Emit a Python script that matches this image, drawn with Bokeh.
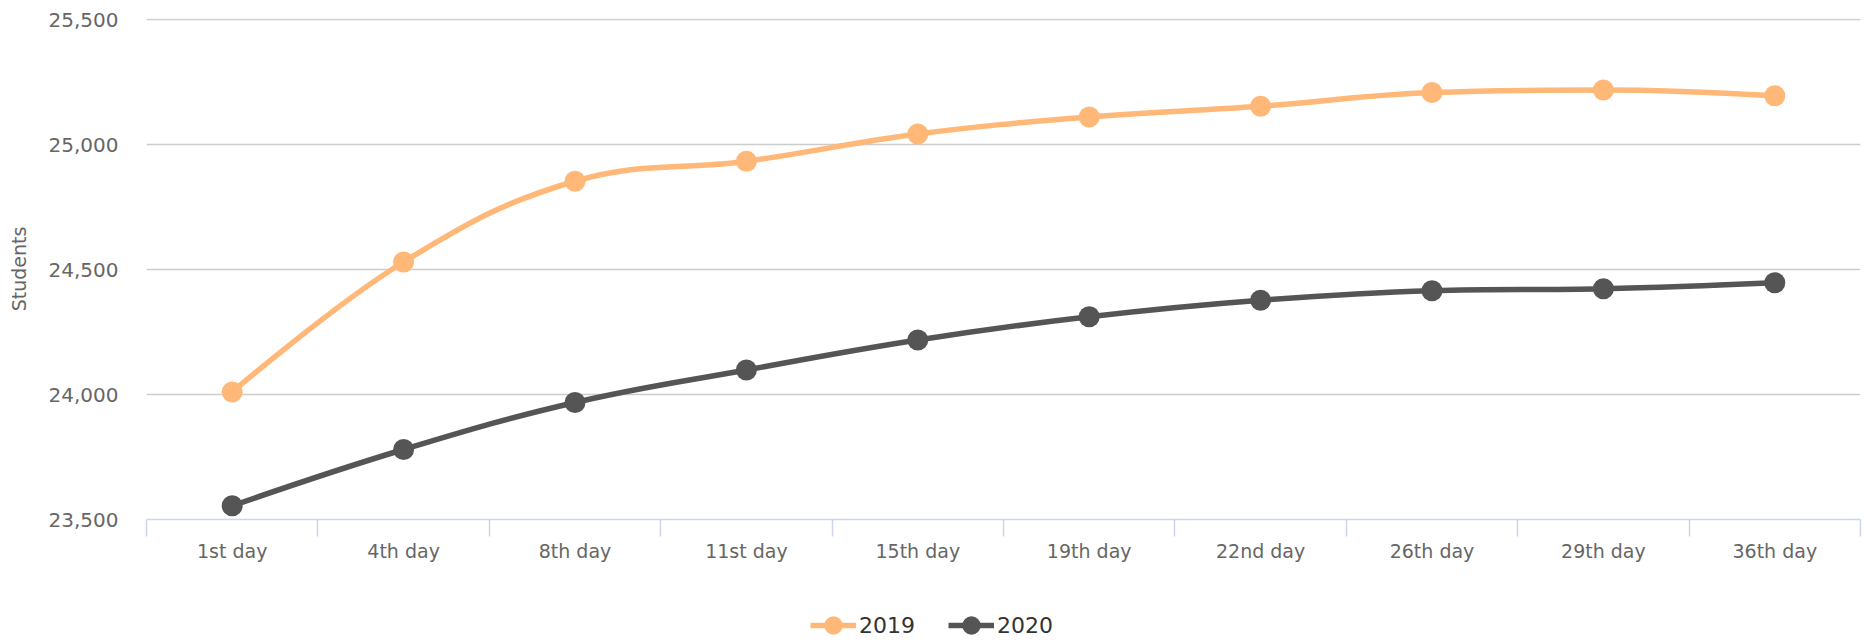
from bokeh.plotting import figure
from bokeh.models import (Range1d, FixedTicker, NumeralTickFormatter, Legend, LegendItem,
                          ColumnDataSource)
from bokeh.layouts import column
from bokeh.embed import file_html
from bokeh.resources import INLINE

categories = ["1st day", "4th day", "8th day", "11st day", "15th day",
              "19th day", "22nd day", "26th day", "29th day", "36th day"]
series_names = ["2019", "2020"]
values_2019 = [24010, 24530, 24853, 24933, 25042, 25110, 25153, 25208, 25218, 25195]
values_2020 = [23555, 23780, 23968, 24098, 24218, 24311, 24377, 24415, 24423, 24447]
y_ticks = [23500, 24000, 24500, 25000, 25500]
colors = ["#FFB877", "#555555"]

FONT = "DejaVu Sans"


def spline_segments(xs, ys, smoothing=1.5):
    """Highcharts-style spline control points, computed from the data."""
    n = len(xs)
    denom = smoothing + 1
    right = [None] * n
    left = [None] * n
    for i in range(1, n - 1):
        px, py = xs[i], ys[i]
        lx, ly = xs[i - 1], ys[i - 1]
        nx, ny = xs[i + 1], ys[i + 1]
        lcx = (smoothing * px + lx) / denom
        lcy = (smoothing * py + ly) / denom
        rcx = (smoothing * px + nx) / denom
        rcy = (smoothing * py + ny) / denom
        corr = 0.0
        if rcx != lcx:
            corr = (rcy - lcy) * (rcx - px) / (rcx - lcx) + py - rcy
        lcy += corr
        rcy += corr
        if lcy > ly and lcy > py:
            lcy = max(ly, py)
            rcy = 2 * py - lcy
        elif lcy < ly and lcy < py:
            lcy = min(ly, py)
            rcy = 2 * py - lcy
        if rcy > ny and rcy > py:
            rcy = max(ny, py)
            lcy = 2 * py - rcy
        elif rcy < ny and rcy < py:
            rcy = min(ny, py)
            lcy = 2 * py - rcy
        left[i] = (lcx, lcy)
        right[i] = (rcx, rcy)
    d = dict(x0=[], y0=[], x1=[], y1=[], cx0=[], cy0=[], cx1=[], cy1=[])
    for i in range(1, n):
        c0 = right[i - 1] if right[i - 1] is not None else (xs[i - 1], ys[i - 1])
        c1 = left[i] if left[i] is not None else (xs[i], ys[i])
        d["x0"].append(xs[i - 1]); d["y0"].append(ys[i - 1])
        d["x1"].append(xs[i]); d["y1"].append(ys[i])
        d["cx0"].append(c0[0]); d["cy0"].append(c0[1])
        d["cx1"].append(c1[0]); d["cy1"].append(c1[1])
    return d


n = len(categories)
centers = [i + 0.5 for i in range(n)]
bounds = [i for i in range(n + 1)]

# small headroom above the top tick so its grid line is drawn inside the frame
y_pad = (y_ticks[-1] - y_ticks[0]) / 500.0

p = figure(width=1864, height=582, output_backend="svg", toolbar_location=None,
           x_range=Range1d(0, n), y_range=Range1d(y_ticks[0], y_ticks[-1] + y_pad),
           min_border_left=146, min_border_right=4, min_border_top=18,
           min_border_bottom=63)
p.outline_line_color = None
p.background_fill_color = "white"
p.border_fill_color = "white"

# x axis
xa = p.xaxis[0]
xa.ticker = FixedTicker(ticks=centers, minor_ticks=bounds)
xa.major_label_overrides = {c: lab for c, lab in zip(centers, categories)}
xa.major_tick_out = 0
xa.major_tick_in = 0
xa.minor_tick_out = 17
xa.minor_tick_in = 0
xa.minor_tick_line_color = "#ccd6eb"
xa.minor_tick_line_width = 1.5
xa.axis_line_color = "#ccd6eb"
xa.axis_line_width = 1.5
xa.major_label_text_font = FONT
xa.major_label_text_font_size = "19px"
xa.major_label_text_color = "#666666"
xa.major_label_standoff = 3
p.xgrid.visible = False

# y axis
ya = p.yaxis[0]
ya.ticker = FixedTicker(ticks=y_ticks)
ya.formatter = NumeralTickFormatter(format="0,0")
ya.axis_line_color = None
ya.major_tick_line_color = None
ya.minor_tick_line_color = None
ya.major_tick_out = 0
ya.major_tick_in = 0
ya.minor_tick_out = 0
ya.major_label_standoff = 28
ya.major_label_text_font = FONT
ya.major_label_text_font_size = "20px"
ya.major_label_text_color = "#666666"
ya.axis_label = "Students"
ya.axis_label_text_font = FONT
ya.axis_label_text_font_size = "19px"
ya.axis_label_text_font_style = "normal"
ya.axis_label_text_color = "#666666"
ya.axis_label_standoff = 16
p.ygrid.grid_line_color = "#cccccc"
p.ygrid.grid_line_width = 1.5

# legend strip below the chart (its frame is aligned with the chart's frame)
leg = figure(width=1864, height=60, output_backend="svg", toolbar_location=None,
             x_axis_type=None, y_axis_type=None, x_range=Range1d(0, 1),
             y_range=Range1d(0, 1), min_border=0)
leg.outline_line_color = None
leg.grid.visible = False

items = []
for name, vals, col in zip(series_names, [values_2019, values_2020], colors):
    seg = ColumnDataSource(spline_segments(centers, vals))
    p.bezier(x0="x0", y0="y0", x1="x1", y1="y1", cx0="cx0", cy0="cy0",
             cx1="cx1", cy1="cy1", source=seg, line_color=col, line_width=5.5)
    p.scatter(x=centers, y=vals, size=21, marker="circle", fill_color=col,
              line_color=col, line_width=0)
    # legend-only renderers, parked outside the strip's visible range
    lr = leg.line(x=[-10, -9], y=[-10, -10], line_color=col, line_width=5.5)
    sr = leg.scatter(x=[-10], y=[-10], size=21, marker="circle", fill_color=col,
                     line_color=col, line_width=0)
    items.append(LegendItem(label=name, renderers=[lr, sr]))

legend = Legend(items=items, orientation="horizontal", location=(664, -6),
                glyph_width=46, glyph_height=46, label_standoff=3, spacing=33,
                padding=0, margin=0, border_line_color=None,
                background_fill_alpha=0,
                label_text_font=FONT, label_text_font_size="22px",
                label_text_color="#333333")
leg.add_layout(legend, "center")

open("out.html", "w").write(file_html(column(p, leg), INLINE))
